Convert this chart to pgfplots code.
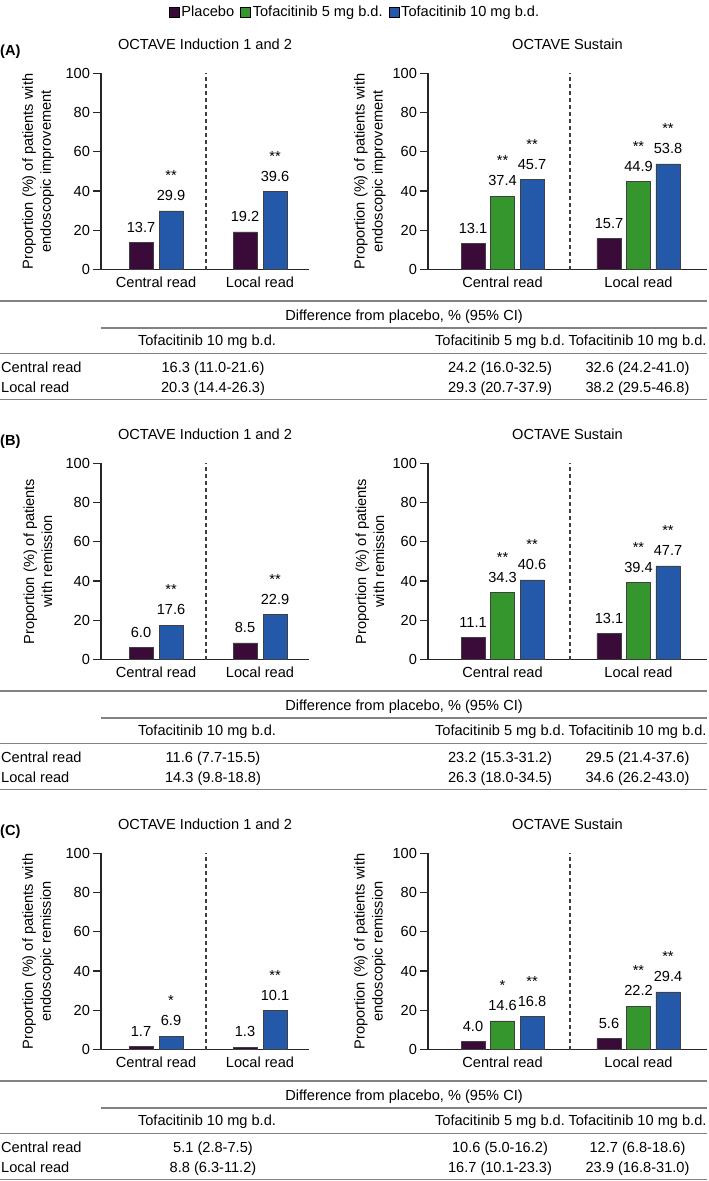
\documentclass[border=0pt]{standalone}
\usepackage{pgfplots}
\pgfplotsset{compat=1.18}
\usepackage{fontspec}
\setmainfont{Liberation Sans}
\definecolor{cplac}{RGB}{58,10,56}
\definecolor{cfive}{RGB}{52,150,44}
\definecolor{cten}{RGB}{36,88,168}
\definecolor{cline}{RGB}{130,130,130}
\newcommand\fs{\fontsize{14.6pt}{18pt}\selectfont}
\protected\def\dstar#1{\shortstack{**\\\rule{0pt}{17pt}#1}}
\protected\def\sstar#1{\shortstack{*\\\rule{0pt}{17pt}#1}}
\pgfplotsset{
 myax/.style={
  scale only axis, height=196.3pt, ymin=0, ymax=100, ytick={0,20,...,100},
  axis x line=bottom, axis y line=left,
  axis line style={-, line width=1.3pt, black!85},
  tick align=outside, major tick length=8pt,
  ytick style={line width=1.3pt, black!85},
  xtick={0,1}, xticklabels={Central read, Local read}, xtick style={draw=none},
  ybar, bar width=24pt, clip=false,
  /pgf/number format/assume math mode=true,
  tick label style={font=\fs},
  xticklabel style={yshift=5.5pt},
  yticklabel style={xshift=2pt},
  ylabel style={font=\fs, align=center, anchor=center},
  title style={font=\fs, at={(axis description cs:0.5,1)}, anchor=base, yshift=18.1pt},
  nodes near coords, point meta=explicit symbolic,
  every node near coord/.append style={font=\fs, inner sep=0pt, anchor=south, yshift=9.7pt},
 },
 leftax/.style={myax, width=208pt, xmin=-0.529, xmax=1.471,
  ylabel style={at={(axis description cs:-0.303,0.5)}}},
 rightax/.style={myax, width=279pt, xmin=-0.548, xmax=1.504,
  ylabel style={at={(axis description cs:-0.208,0.5)}}},
 sqleg/.style={legend image code/.code={\draw[##1,/tikz/.cd,draw=black,line width=0.6pt] (0pt,-5pt) rectangle (10pt,5pt);}},
 bpl/.style={fill=cplac, draw=black!75, line width=0.8pt, sqleg},
 bfv/.style={fill=cfive, draw=black!75, line width=0.8pt, sqleg},
 btn/.style={fill=cten, draw=black!75, line width=0.8pt, sqleg},
}
\tikzset{dline/.style={black!75, line width=1.2pt, dash pattern=on 4pt off 3pt},
 tline/.style={cline, line width=1.6pt}}
\newcommand\difftable[7]{%
 \begin{scope}[yshift=-#1pt]
 \draw[tline] (0pt,-301pt) -- (707pt,-301pt);
 \node[anchor=base, inner sep=0pt] at (404pt,-320.2pt) {Difference from placebo, \% (95\% CI)};
 \draw[tline] (101pt,-328pt) -- (707pt,-328pt);
 \node[anchor=base, inner sep=0pt] at (207pt,-345.3pt) {Tofacitinib 10 mg b.d.};
 \node[anchor=base, inner sep=0pt] at (500pt,-345.3pt) {Tofacitinib 5 mg b.d.};
 \node[anchor=base, inner sep=0pt] at (637.5pt,-345.3pt) {Tofacitinib 10 mg b.d.};
 \draw[tline] (0pt,-353.5pt) -- (707pt,-353.5pt);
 \node[anchor=base west, inner sep=0pt] at (1pt,-372.5pt) {Central read};
 \node[anchor=base, inner sep=0pt] at (213pt,-372.5pt) {#2};
 \node[anchor=base, inner sep=0pt] at (500pt,-372.5pt) {#3};
 \node[anchor=base, inner sep=0pt] at (637.5pt,-372.5pt) {#4};
 \node[anchor=base west, inner sep=0pt] at (1pt,-392.5pt) {Local read};
 \node[anchor=base, inner sep=0pt] at (213pt,-392.5pt) {#5};
 \node[anchor=base, inner sep=0pt] at (500pt,-392.5pt) {#6};
 \node[anchor=base, inner sep=0pt] at (637.5pt,-392.5pt) {#7};
 \draw[tline] (0pt,-399.5pt) -- (707pt,-399.5pt);
 \end{scope}}
\begin{document}
\fs
\begin{tikzpicture}
\useasboundingbox (0pt,0pt) rectangle (709pt,-1181pt);
% ===== Panel A =====
\node[anchor=base west, inner sep=0pt, font=\fs\bfseries] at (0pt,-55.2pt) {(A)};
\begin{axis}[leftax, at={(101pt,-269.6pt)}, anchor=south west,
  title={OCTAVE Induction 1 and 2},
  ylabel={Proportion (\%) of patients with\\endoscopic improvement}]
\draw[dline] (axis cs:0.481,0) -- (axis cs:0.481,100);
\addplot[bpl, bar shift=-15pt] coordinates {(0,13.7) [13.7] (1,19.2) [19.2]};
\addplot[btn, bar shift=15pt] coordinates {(0,29.9) [\dstar{29.9}] (1,39.6) [\dstar{39.6}]};
\end{axis}
\begin{axis}[rightax, at={(428pt,-269.6pt)}, anchor=south west,
  title={OCTAVE Sustain},
  ylabel={Proportion (\%) of patients with\\endoscopic improvement},
  legend columns=3,
  legend style={at={(axis description cs:-0.2616,1.3123)}, anchor=center, draw=none, fill=none,
    font=\fs, inner sep=0pt, /tikz/every even column/.append style={column sep=4pt}}]
\draw[dline] (axis cs:0.496,0) -- (axis cs:0.496,100);
\addplot[bpl, bar shift=-29.5pt] coordinates {(0,13.1) [13.1] (1,15.7) [15.7]};
\addplot[bfv, bar shift=0pt] coordinates {(0,37.4) [\dstar{37.4}] (1,44.9) [\dstar{44.9}]};
\addplot[btn, bar shift=29.5pt] coordinates {(0,45.7) [\dstar{45.7}] (1,53.8) [\dstar{53.8}]};
\legend{Placebo, Tofacitinib 5 mg b.d., Tofacitinib 10 mg b.d.}
\end{axis}
\difftable{0}{16.3 (11.0-21.6)}{24.2 (16.0-32.5)}{32.6 (24.2-41.0)}{20.3 (14.4-26.3)}{29.3 (20.7-37.9)}{38.2 (29.5-46.8)}
% ===== Panel B =====
\node[anchor=base west, inner sep=0pt, font=\fs\bfseries] at (0pt,-445.2pt) {(B)};
\begin{axis}[leftax, at={(101pt,-659.6pt)}, anchor=south west,
  title={OCTAVE Induction 1 and 2},
  ylabel={Proportion (\%) of patients\\with remission}]
\draw[dline] (axis cs:0.481,0) -- (axis cs:0.481,100);
\addplot[bpl, bar shift=-15pt] coordinates {(0,6.0) [6.0] (1,8.5) [8.5]};
\addplot[btn, bar shift=15pt] coordinates {(0,17.6) [\dstar{17.6}] (1,22.9) [\dstar{22.9}]};
\end{axis}
\begin{axis}[rightax, at={(428pt,-659.6pt)}, anchor=south west,
  title={OCTAVE Sustain},
  ylabel={Proportion (\%) of patients\\with remission}]
\draw[dline] (axis cs:0.496,0) -- (axis cs:0.496,100);
\addplot[bpl, bar shift=-29.5pt] coordinates {(0,11.1) [11.1] (1,13.1) [13.1]};
\addplot[bfv, bar shift=0pt] coordinates {(0,34.3) [\dstar{34.3}] (1,39.4) [\dstar{39.4}]};
\addplot[btn, bar shift=29.5pt] coordinates {(0,40.6) [\dstar{40.6}] (1,47.7) [\dstar{47.7}]};
\end{axis}
\difftable{390}{11.6 (7.7-15.5)}{23.2 (15.3-31.2)}{29.5 (21.4-37.6)}{14.3 (9.8-18.8)}{26.3 (18.0-34.5)}{34.6 (26.2-43.0)}
% ===== Panel C =====
\node[anchor=base west, inner sep=0pt, font=\fs\bfseries] at (0pt,-835.2pt) {(C)};
\begin{axis}[leftax, at={(101pt,-1049.6pt)}, anchor=south west,
  title={OCTAVE Induction 1 and 2},
  ylabel={Proportion (\%) of patients with\\endoscopic remission}]
\draw[dline] (axis cs:0.481,0) -- (axis cs:0.481,100);
\addplot[bpl, bar shift=-15pt] coordinates {(0,1.7) [1.7] (1,1.3) [1.3]};
\addplot[btn, bar shift=15pt] coordinates {(0,6.9) [\sstar{6.9}] (1,20.0) [\dstar{10.1}]};
\end{axis}
\begin{axis}[rightax, at={(428pt,-1049.6pt)}, anchor=south west,
  title={OCTAVE Sustain},
  ylabel={Proportion (\%) of patients with\\endoscopic remission}]
\draw[dline] (axis cs:0.496,0) -- (axis cs:0.496,100);
\addplot[bpl, bar shift=-29.5pt] coordinates {(0,4.0) [4.0] (1,5.6) [5.6]};
\addplot[bfv, bar shift=0pt] coordinates {(0,14.6) [\sstar{14.6}] (1,22.2) [\dstar{22.2}]};
\addplot[btn, bar shift=29.5pt] coordinates {(0,16.8) [\dstar{16.8}] (1,29.4) [\dstar{29.4}]};
\end{axis}
\difftable{780}{5.1 (2.8-7.5)}{10.6 (5.0-16.2)}{12.7 (6.8-18.6)}{8.8 (6.3-11.2)}{16.7 (10.1-23.3)}{23.9 (16.8-31.0)}
\end{tikzpicture}
\end{document}
